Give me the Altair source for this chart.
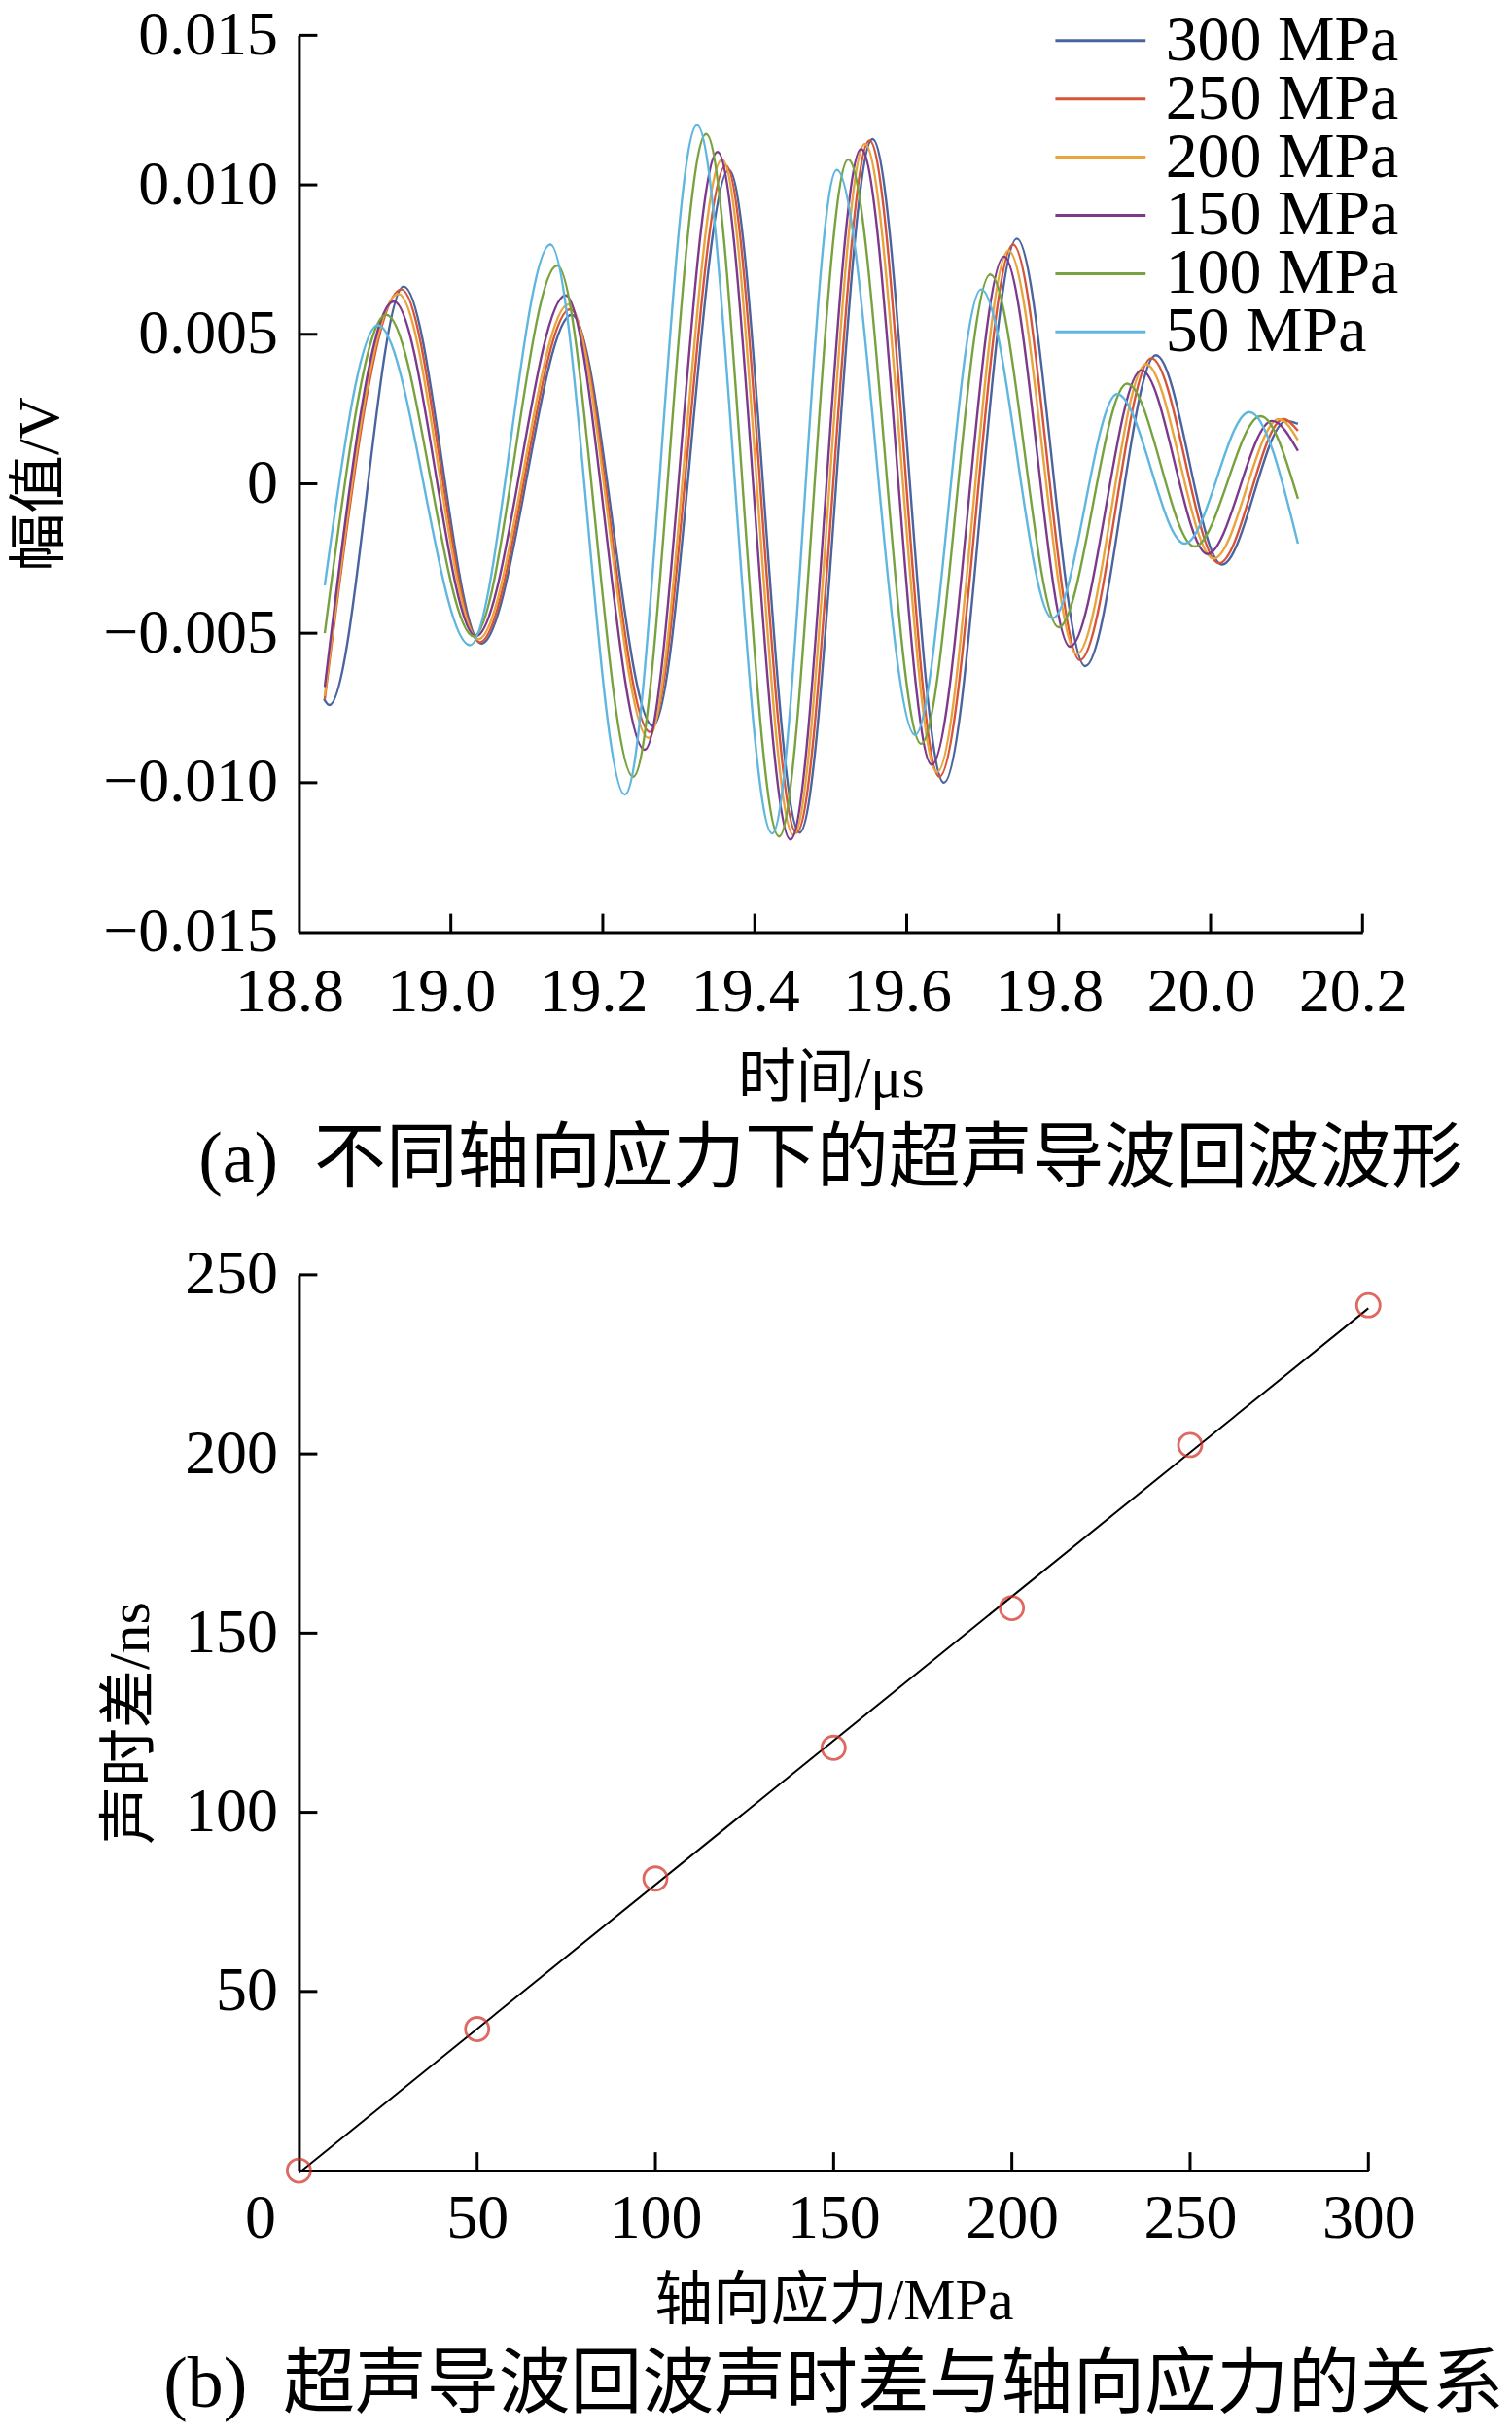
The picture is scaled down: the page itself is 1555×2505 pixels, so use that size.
import altair as alt
import pandas as pd

FONT = "Liberation Serif, Noto Sans CJK SC"

# ---------------- panel (a): waveforms ----------------
series_names = ["300 MPa", "250 MPa", "200 MPa", "150 MPa", "100 MPa", "50 MPa"]
series_colors = ["#4a649f", "#d6553a", "#eaa43e", "#7d3a8c", "#78a23f", "#5fb6de"]

t_300 = [18.833, 18.840, 18.938, 19.040, 19.159, 19.266, 19.366, 19.459, 19.555, 19.649, 19.745, 19.835, 19.928, 20.015, 20.100, 20.115]
v_300 = [-0.0072, -0.0074, 0.0066, -0.00535, 0.00565, -0.0081, 0.0105, -0.01167, 0.01153, -0.0100, 0.0082, -0.0061, 0.0043, -0.0027, 0.0021, 0.0020]

t_250 = [18.834, 18.935, 19.038, 19.157, 19.262, 19.362, 19.455, 19.551, 19.643, 19.740, 19.828, 19.922, 20.011, 20.096, 20.115]
v_250 = [-0.0072, 0.0065, -0.0053, 0.00584, -0.0083, 0.01065, -0.01167, 0.01148, -0.0098, 0.0080, -0.0059, 0.0042, -0.00266, 0.00216, 0.00177]

t_200 = [18.834, 18.931, 19.036, 19.155, 19.260, 19.357, 19.451, 19.545, 19.640, 19.734, 19.824, 19.915, 20.004, 20.090, 20.115]
v_200 = [-0.0071, 0.00635, -0.0052, 0.0060, -0.0085, 0.01085, -0.01175, 0.01137, -0.00965, 0.0078, -0.0057, 0.0040, -0.0025, 0.00216, 0.00146]

t_150 = [18.834, 18.925, 19.033, 19.151, 19.255, 19.351, 19.447, 19.540, 19.633, 19.728, 19.815, 19.909, 19.996, 20.081, 20.115]
v_150 = [-0.0068, 0.0061, -0.0051, 0.0063, -0.0089, 0.0111, -0.0119, 0.0112, -0.0094, 0.0076, -0.00545, 0.0038, -0.00235, 0.0021, 0.0011]

t_100 = [18.834, 18.915, 19.030, 19.140, 19.240, 19.336, 19.432, 19.523, 19.619, 19.710, 19.800, 19.890, 19.979, 20.066, 20.115]
v_100 = [-0.0050, 0.00565, -0.0051, 0.0073, -0.0098, 0.0117, -0.0118, 0.01085, -0.0087, 0.0070, -0.0048, 0.00335, -0.0021, 0.00226, -0.0005]

t_50 = [18.834, 18.904, 19.025, 19.131, 19.229, 19.324, 19.423, 19.508, 19.611, 19.698, 19.792, 19.877, 19.966, 20.051, 20.115]
v_50 = [-0.0034, 0.0053, -0.0054, 0.0080, -0.0104, 0.0120, -0.0117, 0.0105, -0.0084, 0.0065, -0.0045, 0.0030, -0.0020, 0.0024, -0.0020]

a_xticks = [18.8, 19.0, 19.2, 19.4, 19.6, 19.8, 20.0, 20.2]
a_yticks = [-0.015, -0.010, -0.005, 0.0, 0.005, 0.010, 0.015]

# ---------------- panel (b): time difference vs stress ----------------
stress = [0, 50, 100, 150, 200, 250, 300]
time_diff = [0.0, 39.5, 81.5, 118.0, 157.0, 202.5, 241.5]
b_xticks = [0, 50, 100, 150, 200, 250, 300]
b_yticks = [0, 50, 100, 150, 200, 250]

# ---------------- build tables ----------------
rows = []
for name, ts, vs in zip(series_names,
                        [t_300, t_250, t_200, t_150, t_100, t_50],
                        [v_300, v_250, v_200, v_150, v_100, v_50]):
    for t, v in zip(ts, vs):
        rows.append({"series": name, "t": t, "v": v})
wave_df = pd.DataFrame(rows)
b_df = pd.DataFrame({"stress": stress, "dt": time_diff})

W_A, H_A = 1096, 924
W_B, H_B = 1102, 923
TICK = 19

xs_a = alt.Scale(domain=[18.8, 20.2], nice=False, zero=False)
ys_a = alt.Scale(domain=[-0.015, 0.015], nice=False, zero=False)

waves = alt.Chart(wave_df).mark_line(interpolate="monotone", strokeWidth=2.4).encode(
    x=alt.X("t:Q", scale=xs_a,
            axis=alt.Axis(values=a_xticks, format=".1f", title="时间/μs",
                          labelPadding=30, titlePadding=28, labelOffset=-10)),
    y=alt.Y("v:Q", scale=ys_a,
            axis=alt.Axis(values=a_yticks,
                          labelExpr="datum.value === 0 ? '0' : format(datum.value, '.3f')",
                          title="幅值/V", labelPadding=22, titlePadding=35)),
    color=alt.Color("series:N",
                    scale=alt.Scale(domain=series_names, range=series_colors),
                    sort=series_names,
                    legend=alt.Legend(orient="none", legendX=778, legendY=-21, title=None,
                                      symbolType="stroke", symbolSize=8649,
                                      symbolStrokeWidth=3, labelFontSize=66,
                                      labelFont=FONT, labelColor="black", labelLimit=500,
                                      labelOffset=19, rowPadding=-19, clipHeight=53,
                                      padding=0)),
)

a_ytick_df = pd.DataFrame({"v": a_yticks[1:]})
a_xtick_df = pd.DataFrame({"t": a_xticks[1:]})
a_yt = alt.Chart(a_ytick_df).mark_rule(color="black", strokeWidth=3).encode(
    y=alt.Y("v:Q", scale=ys_a), x=alt.value(0), x2=alt.value(TICK))
a_xt = alt.Chart(a_xtick_df).mark_rule(color="black", strokeWidth=3).encode(
    x=alt.X("t:Q", scale=xs_a), y=alt.value(H_A), y2=alt.value(H_A - TICK))

panel_a = alt.layer(waves, a_yt, a_xt).properties(
    width=W_A, height=H_A,
    title=alt.TitleParams(text="(a)\u00a0\u00a0不同轴向应力下的超声导波回波波形", orient="bottom",
                          anchor="middle", frame="group", fontSize=74, font=FONT,
                          fontWeight="normal", color="black", offset=18),
)

xs_b = alt.Scale(domain=[0, 300], nice=False, zero=False)
ys_b = alt.Scale(domain=[0, 250], nice=False, zero=False)

fit = alt.Chart(b_df).transform_regression("stress", "dt", extent=[0, 300]).mark_line(
    color="black", strokeWidth=2).encode(
    x=alt.X("stress:Q", scale=xs_b,
            axis=alt.Axis(values=b_xticks, title="轴向应力/MPa", labelPadding=18,
                          titlePadding=24,
                          labelOffset={"condition": {"test": "datum.value === 0", "value": -40}, "value": 0})),
    y=alt.Y("dt:Q", scale=ys_b,
            axis=alt.Axis(values=b_yticks, labelExpr="datum.value === 0 ? '' : datum.label",
                          title="声时差/ns", labelPadding=22, titlePadding=24)),
)
pts = alt.Chart(b_df).mark_point(shape="circle", filled=False, size=580, color="#d02a20",
                                 strokeWidth=2.8, clip=False).encode(
    x=alt.X("stress:Q", scale=xs_b), y=alt.Y("dt:Q", scale=ys_b))

b_yt = alt.Chart(pd.DataFrame({"dt": b_yticks[1:]})).mark_rule(color="black", strokeWidth=3).encode(
    y=alt.Y("dt:Q", scale=ys_b), x=alt.value(0), x2=alt.value(TICK))
b_xt = alt.Chart(pd.DataFrame({"stress": b_xticks[1:]})).mark_rule(color="black", strokeWidth=3).encode(
    x=alt.X("stress:Q", scale=xs_b), y=alt.value(H_B), y2=alt.value(H_B - TICK))

panel_b = alt.layer(fit, b_yt, b_xt, pts).properties(
    width=W_B, height=H_B,
    title=alt.TitleParams(text="(b)\u00a0\u00a0超声导波回波声时差与轴向应力的关系", orient="bottom",
                          anchor="middle", frame="group", fontSize=74, font=FONT,
                          fontWeight="normal", color="black", offset=20),
)

chart = alt.vconcat(panel_a, panel_b, spacing=49).properties(
    padding={"left": 4, "top": -6, "right": 0, "bottom": 0},
    background="white",
).configure_view(stroke=None).configure_axis(
    grid=False, ticks=False, tickSize=0, domainColor="black", domainWidth=3,
    labelFont=FONT, labelFontSize=64, labelColor="black", labelLimit=500,
    labelOverlap=False, labelFlush=False,
    titleFont=FONT, titleFontSize=60, titleFontWeight="normal", titleColor="black",
)

chart.save("out.html", embed_options={"renderer": "svg", "actions": False})
